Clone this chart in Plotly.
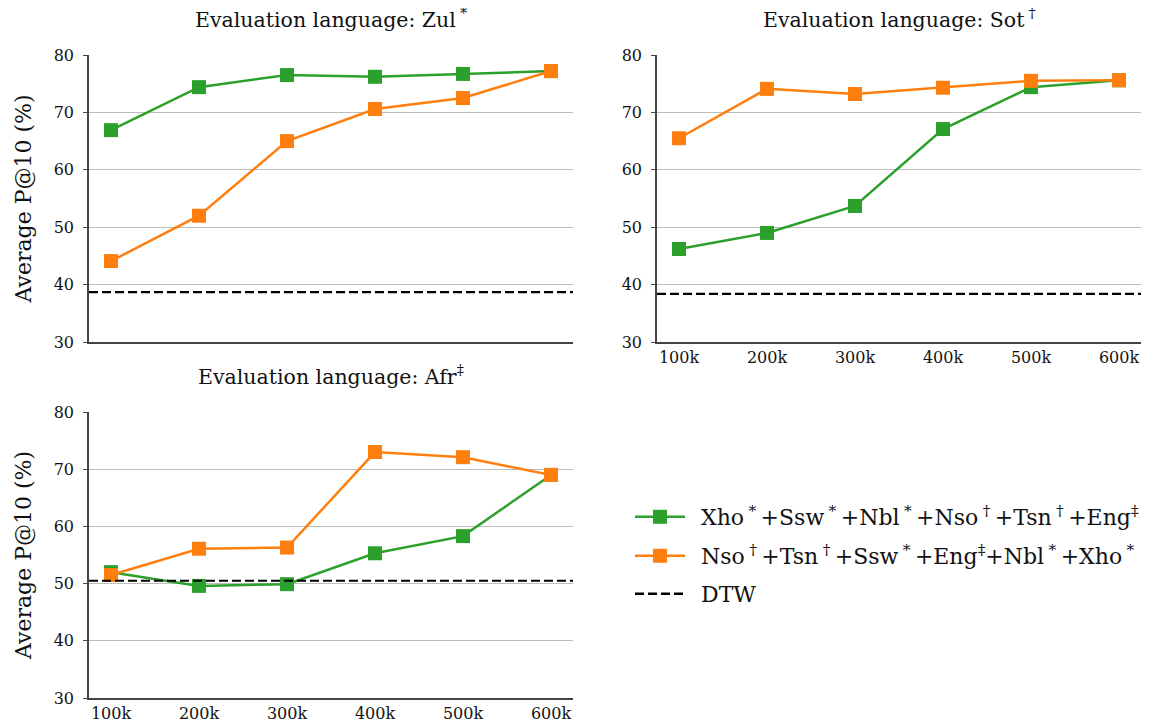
import plotly.graph_objects as go

sizes = ["100k", "200k", "300k", "400k", "500k", "600k"]
titles = ["Evaluation language: Zul\u2009<sup>*</sup>",
          "Evaluation language: Sot\u2009<sup>†</sup>",
          "Evaluation language: Afr<sup>‡</sup>"]

# per evaluation language: Zul, Sot, Afr
green_vals = [
    [66.9, 74.4, 76.5, 76.2, 76.7, 77.2],
    [46.2, 49.0, 53.7, 67.1, 74.4, 75.6],
    [52.0, 49.6, 49.9, 55.3, 58.3, 69.0],
]
orange_vals = [
    [44.1, 52.0, 65.0, 70.6, 72.5, 77.2],
    [65.5, 74.1, 73.2, 74.3, 75.5, 75.6],
    [51.5, 56.1, 56.3, 73.0, 72.1, 69.0],
]
dtw_vals = [38.7, 38.4, 50.5]

sp = "\u2009"
lead = "\u2002"
green_name = (f"{lead}Xho{sp}<sup>*</sup>{sp}+Ssw{sp}<sup>*</sup>{sp}+Nbl{sp}<sup>*</sup>{sp}"
              f"+Nso{sp}<sup>†</sup>{sp}+Tsn{sp}<sup>†</sup>{sp}+Eng<sup>‡</sup>")
orange_name = (f"{lead}Nso{sp}<sup>†</sup>{sp}+Tsn{sp}<sup>†</sup>{sp}+Ssw{sp}<sup>*</sup>{sp}"
               f"+Eng<sup>‡</sup>+Nbl{sp}<sup>*</sup>{sp}+Xho{sp}<sup>*</sup>")
dtw_name = f"{lead}DTW"

GREEN = "#2ca02c"
ORANGE = "#ff7f0e"
FONT = "DejaVu Serif"
DASH = "9px,4px"
W, H = 1171, 726
OFF = 8  # page body margin


def px(v):
    return (v - OFF) / W


def py(v):
    return 1 - (v - OFF) / H


# plot boxes in pixels: (left, right, top, bottom)
boxes = [(89, 573, 55, 342), (657, 1141, 55, 342), (89, 573, 412, 698)]

fig = go.Figure()

for i, (l, r, t, b) in enumerate(boxes):
    n = "" if i == 0 else str(i + 1)
    xa, ya = "x" + n, "y" + n
    fig.add_trace(go.Scatter(
        x=sizes, y=green_vals[i], xaxis=xa, yaxis=ya,
        mode="lines+markers", name=green_name, legend="legend",
        showlegend=(i == 0),
        line=dict(color=GREEN, width=2.5),
        marker=dict(symbol="square", size=14, color=GREEN),
    ))
    fig.add_trace(go.Scatter(
        x=sizes, y=orange_vals[i], xaxis=xa, yaxis=ya,
        mode="lines+markers", name=orange_name, legend="legend2",
        showlegend=(i == 0),
        line=dict(color=ORANGE, width=2.5),
        marker=dict(symbol="square", size=14, color=ORANGE),
    ))
    fig.add_shape(type="line", xref=xa + " domain", yref=ya,
                  x0=0, x1=1, y0=dtw_vals[i], y1=dtw_vals[i],
                  line=dict(color="black", width=2.2, dash=DASH))

    fig.layout["xaxis" + n] = dict(
        domain=[px(l), px(r)], anchor=ya, range=[-0.25, 5.25],
        type="category", showgrid=False, automargin=False,
        showline=True, linecolor="#444", linewidth=1.5, ticks="",
        tickfont=dict(family=FONT, size=16, color="#111"),
        showticklabels=(i != 0))
    fig.layout["yaxis" + n] = dict(
        domain=[py(b), py(t)], anchor=xa, range=[30, 80],
        dtick=10, showgrid=True, gridcolor="#bdbdbd", gridwidth=1,
        zeroline=False, automargin=False,
        showline=True, linecolor="#444", linewidth=1.5,
        ticks="outside", ticklen=4, tickcolor="#444", ticklabelstandoff=6,
        tickfont=dict(family=FONT, size=16, color="#111"))
    if i != 1:
        fig.layout["yaxis" + n].title = dict(
            text="Average P@10 (%)", standoff=16,
            font=dict(family=FONT, size=22, color="#111"))

    fig.add_annotation(text=titles[i], x=(px(l) + px(r)) / 2, y=py(t - 21),
                       xref="paper", yref="paper", showarrow=False,
                       xanchor="center", yanchor="bottom",
                       font=dict(family=FONT, size=20.5, color="#111"))

fig.add_trace(go.Scatter(
    x=[None], y=[None], mode="lines", name=dtw_name, legend="legend3",
    line=dict(color="black", width=2.5, dash=DASH),
))

leg_font = dict(family=FONT, size=22, color="#111")
legend_rows = [517, 556, 594]
legends = {}
for k, yc in enumerate(legend_rows):
    key = "legend" if k == 0 else f"legend{k + 1}"
    legends[key] = dict(x=px(630), y=py(yc), xanchor="left", yanchor="middle",
                        font=leg_font, bgcolor="rgba(0,0,0,0)", itemwidth=50)

fig.update_layout(
    width=W, height=H,
    margin=dict(l=0, r=0, t=0, b=0),
    plot_bgcolor="white", paper_bgcolor="white",
    **legends,
)

fig.write_html("out.html")
